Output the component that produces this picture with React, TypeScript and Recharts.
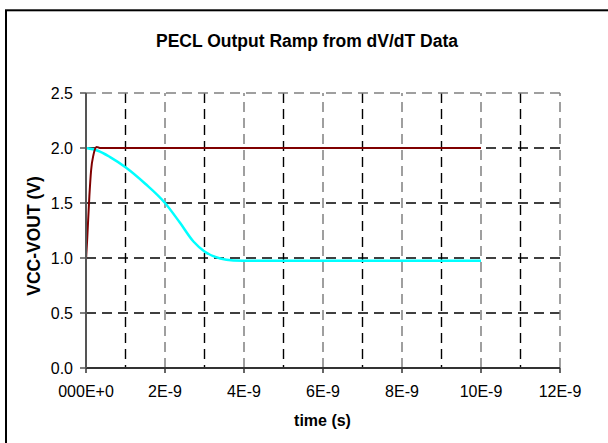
import React from "react";
import { LineChart, Line, XAxis, YAxis, CartesianGrid, ReferenceLine } from "recharts";

// time in units of 1E-9 s
const redTime = [0, 0.03, 0.085, 0.13, 0.19, 0.27, 0.35, 10];
const redValue = [0.98, 1.17, 1.56, 1.8, 1.94, 2.01, 2.0, 2.0];

const cyanTime = [0, 0.3, 0.6, 1.0, 1.5, 2.0, 2.38, 2.72, 3.0, 3.4, 3.73, 4.2, 10];
const cyanValue = [2.0, 1.975, 1.92, 1.825, 1.675, 1.5, 1.32, 1.15, 1.06, 0.995, 0.978, 0.975, 0.975];

const xTicks = [0, 2, 4, 6, 8, 10, 12];
const xTickLabels = ["000E+0", "2E-9", "4E-9", "6E-9", "8E-9", "10E-9", "12E-9"];
const xMinorTicks = [1, 3, 5, 7, 9, 11];
const xMajorGrid = [2, 4, 6, 8, 10, 12];
const yTicks = [0, 0.5, 1.0, 1.5, 2.0, 2.5];
const yInnerTicks = [0.5, 1.0, 1.5, 2.0];
const yTop = 2.5;

const title = "PECL Output Ramp from dV/dT Data";
const xTitle = "time (s)";
const yTitle = "VCC-VOUT (V)";

const redData = redTime.map((t, i) => ({ t, v: redValue[i] }));
const cyanData = cyanTime.map((t, i) => ({ t, v: cyanValue[i] }));

const FONT = "'Liberation Sans', Arial, sans-serif";
const DASH = "10 6";

const applyScale = (axis: any, v: number) => {
  const s = axis && axis.scale;
  if (!s) return 0;
  if (typeof s === "function") return s(v);
  if (typeof s.map === "function") return s.map(v);
  return 0;
};

export default function App() {
  return (
    <div style={{ position: "absolute", left: 0, top: 0, width: 608, height: 443, background: "#fff", overflow: "hidden", fontFamily: FONT }}>
      <LineChart width={608} height={443} margin={{ top: 93, right: 48, bottom: 45, left: 26 }}>
        <XAxis
          xAxisId="x"
          dataKey="t"
          type="number"
          domain={[0, 12]}
          ticks={xTicks}
          allowDataOverflow
          tickFormatter={(v: number) => xTickLabels[xTicks.indexOf(v)] ?? ""}
          tick={{ fill: "#000", fontSize: 16, fontFamily: FONT }}
          tickSize={5}
          tickMargin={13}
          height={30}
          axisLine={{ stroke: "#333", strokeWidth: 2 }}
          tickLine={{ stroke: "#333", strokeWidth: 1.5 }}
        />
        <YAxis
          yAxisId="y"
          type="number"
          domain={[0, 2.5]}
          ticks={yTicks}
          allowDataOverflow
          tickFormatter={(v: number) => v.toFixed(1)}
          tick={{ fill: "#000", fontSize: 16, fontFamily: FONT }}
          tickSize={6}
          tickMargin={7}
          width={60}
          axisLine={{ stroke: "#555", strokeWidth: 2 }}
          tickLine={{ stroke: "#555", strokeWidth: 1.5 }}
        />
        <CartesianGrid
          xAxisId="x"
          yAxisId="y"
          stroke="#000"
          strokeWidth={1.4}
          strokeDasharray={DASH}
          verticalCoordinatesGenerator={(p: any) => xMinorTicks.map((t) => applyScale(p.xAxis, t))}
          horizontalCoordinatesGenerator={(p: any) => yInnerTicks.map((v) => applyScale(p.yAxis, v))}
        />
        {xMajorGrid.map((t) => (
          <ReferenceLine key={`gx${t}`} xAxisId="x" yAxisId="y" x={t} stroke="#808080" strokeWidth={1.5} strokeDasharray={DASH} />
        ))}
        <ReferenceLine xAxisId="x" yAxisId="y" y={yTop} stroke="#808080" strokeWidth={1.5} strokeDasharray={DASH} />
        <Line
          xAxisId="x"
          yAxisId="y"
          data={cyanData}
          dataKey="v"
          type="monotone"
          stroke="#00FFFF"
          strokeWidth={2.5}
          dot={false}
          isAnimationActive={false}
        />
        <Line
          xAxisId="x"
          yAxisId="y"
          data={redData}
          dataKey="v"
          type="monotone"
          stroke="#800000"
          strokeWidth={2}
          dot={false}
          isAnimationActive={false}
        />
      </LineChart>
      <svg width={608} height={443} style={{ position: "absolute", left: 0, top: 0, pointerEvents: "none" }}>
        <rect x={6} y={10.3} width={700} height={600} fill="none" stroke="#000" strokeWidth={2} />
        <text x={307} y={47} textAnchor="middle" fontFamily={FONT} fontWeight="bold" fontSize={17.5} fill="#000">
          {title}
        </text>
        <text x={322.5} y={426} textAnchor="middle" fontFamily={FONT} fontWeight="bold" fontSize={16} fill="#000">
          {xTitle}
        </text>
        <text
          x={40}
          y={236}
          textAnchor="middle"
          fontFamily={FONT}
          fontWeight="bold"
          fontSize={17.5}
          fill="#000"
          transform="rotate(-90 40 236)"
        >
          {yTitle}
        </text>
      </svg>
    </div>
  );
}
